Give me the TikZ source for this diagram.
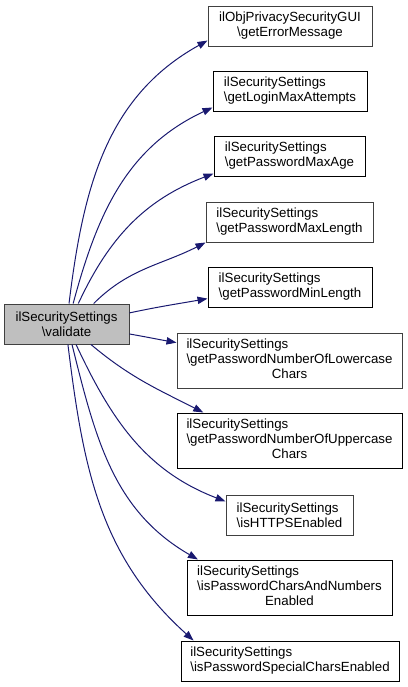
\documentclass[tikz,border=0pt]{standalone}
\usepackage{fontspec}
\setmainfont{Liberation Sans}
\usepackage{tikz}
\usetikzlibrary{arrows.meta}

\definecolor{edgeblue}{HTML}{191970}
\definecolor{boxgray}{HTML}{404040}
\definecolor{curfill}{HTML}{BFBFBF}

\tikzset{
  fnbox/.style={draw=black, fill=white, line width=0.75bp, inner sep=0pt,
    minimum height=40*0.75bp, font=\fontsize{10}{11.3}\selectfont},
  tallbox/.style={fnbox, minimum height=55*0.75bp},
  curbox/.style={fnbox, draw=boxgray, fill=curfill},
  callarrow/.style={draw=edgeblue, line width=0.75bp,
    -{Triangle[length=7.5bp,width=5.5bp]}},
}

\begin{document}
\begin{tikzpicture}[x=0.75bp,y=-0.75bp]
  \useasboundingbox (0,0) rectangle (408,687); % 画像全体の大きさ
  \node[curbox, minimum width=125*0.75bp, align=center] (validate) at (66.5,324) {ilSecuritySettings\\\textbackslash validate}; % 呼び出し元の関数
  \node[fnbox, draw=boxgray, minimum width=164*0.75bp, align=center] (errmsg) at (290,26) {ilObjPrivacySecurityGUI\\\textbackslash getErrorMessage}; % 呼び出し先 1
  \node[fnbox, minimum width=154*0.75bp, align=left] (loginmax) at (290,91) {ilSecuritySettings\\\textbackslash getLoginMaxAttempts}; % 呼び出し先 2
  \node[fnbox, minimum width=151*0.75bp, align=left] (pwage) at (289.5,156) {ilSecuritySettings\\\textbackslash getPasswordMaxAge}; % 呼び出し先 3
  \node[fnbox, draw=boxgray, minimum width=167*0.75bp, align=left] (pwmaxlen) at (289.5,222) {ilSecuritySettings\\\textbackslash getPasswordMaxLength}; % 呼び出し先 4
  \node[fnbox, minimum width=164*0.75bp, align=left] (pwminlen) at (290,287) {ilSecuritySettings\\\textbackslash getPasswordMinLength}; % 呼び出し先 5
  \node[tallbox, draw=boxgray, minimum width=225*0.75bp] (pwlower) at (289.5,360.5) {\begin{tabular}{@{}l@{}}ilSecuritySettings\\\textbackslash getPasswordNumberOfLowercase\\\multicolumn{1}{@{}c@{}}{Chars}\end{tabular}}; % 呼び出し先 6（3行）
  \node[tallbox, minimum width=225*0.75bp] (pwupper) at (289.5,440.5) {\begin{tabular}{@{}l@{}}ilSecuritySettings\\\textbackslash getPasswordNumberOfUppercase\\\multicolumn{1}{@{}c@{}}{Chars}\end{tabular}}; % 呼び出し先 7（3行）
  \node[fnbox, draw=boxgray, minimum width=127*0.75bp, align=left] (https) at (289.5,515) {ilSecuritySettings\\\textbackslash isHTTPSEnabled}; % 呼び出し先 8
  \node[tallbox, minimum width=205*0.75bp] (charsnum) at (289.5,587.5) {\begin{tabular}{@{}l@{}}ilSecuritySettings\\\textbackslash isPasswordCharsAndNumbers\\\multicolumn{1}{@{}c@{}}{Enabled}\end{tabular}}; % 呼び出し先 9（3行）
  \node[fnbox, minimum width=218*0.75bp, align=left] (special) at (290,661) {ilSecuritySettings\\\textbackslash isPasswordSpecialCharsEnabled}; % 呼び出し先 10

  \draw[callarrow] (validate.83) to[out=83, in=209] (errmsg.190); % 上向きの曲線
  \draw[callarrow] (validate.72) to[out=75, in=205] (loginmax.192);
  \draw[callarrow] (validate.60) to[out=65, in=201] (pwage.193);
  \draw[callarrow] (validate.37) to[out=45, in=207] (pwmaxlen.south west);
  \draw[callarrow] (validate.10) to[out=12, in=190] (pwminlen.188); % ほぼ直線
  \draw[callarrow] (validate.-9) to[out=-10, in=170] (pwlower.171); % ほぼ直線
  \draw[callarrow] (validate.-40) to[out=-40, in=153] (pwupper.162); % 下向きの曲線
  \draw[callarrow] (validate.-65) to[out=-65, in=159] (https.168);
  \draw[callarrow] (validate.-75) to[out=-76, in=150] (charsnum.163);
  \draw[callarrow] (validate.-86) to[out=-83, in=138] (special.168);
\end{tikzpicture}
\end{document}
